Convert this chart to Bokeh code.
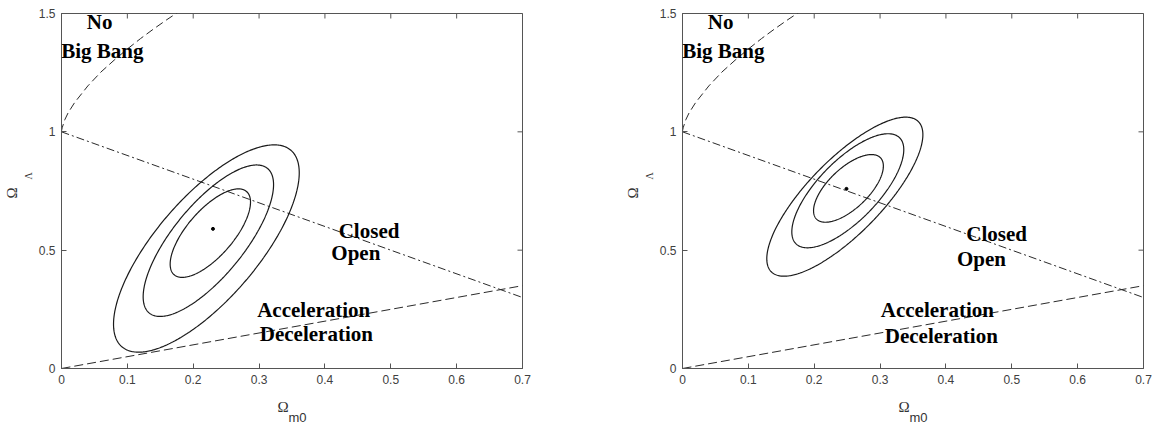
import numpy as np
from bokeh.plotting import figure
from bokeh.models import (Range1d, FixedTicker, Title, LabelSet,
                          CustomJSTickFormatter, ColumnDataSource)
from bokeh.layouts import row
from bokeh.embed import file_html
from bokeh.resources import INLINE
from bokeh.core.properties import value

# ---------------- data ----------------
om_ticks = [0, 0.1, 0.2, 0.3, 0.4, 0.5, 0.6, 0.7]
ol_ticks = [0, 0.5, 1, 1.5]
x_lim = [0, 0.7]
y_lim = [0, 1.5]

# acceleration / deceleration boundary
accel_x = [0.0, 0.7]
accel_y = [0.0, 0.35]
# closed / open (flat) boundary
flat_x = [0.0, 0.7]
flat_y = [1.0, 0.3]
# no big bang boundary
nobb_x = [0.0, 0.0002, 0.001, 0.005, 0.01, 0.02, 0.04, 0.06, 0.08, 0.10, 0.12, 0.14, 0.16, 0.18]
nobb_y = [1.0, 1.006, 1.017, 1.051, 1.080, 1.124, 1.194, 1.253, 1.303, 1.350, 1.394, 1.435, 1.474, 1.511]

# confidence contours (1, 2, 3 sigma): centre, half-extents, correlation
left_cx = [0.226, 0.223, 0.220]
left_cy = [0.572, 0.540, 0.507]
left_sx = [0.061, 0.099, 0.141]
left_sy = [0.187, 0.320, 0.438]
left_rho = [0.70, 0.74, 0.73]
left_best = [0.230, 0.590]

right_cx = [0.252, 0.251, 0.2465]
right_cy = [0.761, 0.751, 0.726]
right_sx = [0.053, 0.085, 0.1185]
right_sy = [0.143, 0.241, 0.336]
right_rho = [0.66, 0.72, 0.78]
right_best = [0.249, 0.759]

region_text = ["No", "Big Bang", "Closed", "Open", "Acceleration", "Deceleration"]
left_text_x = [0.058, 0.062, 0.467, 0.447, 0.383, 0.387]
left_text_y = [1.462, 1.343, 0.583, 0.486, 0.249, 0.144]
right_text_x = [0.058, 0.062, 0.477, 0.454, 0.387, 0.393]
right_text_y = [1.462, 1.343, 0.568, 0.463, 0.247, 0.137]

AX = "#555555"
TICK_TXT = "#404040"
LINE = "#2a2a2a"

fmt_code = "return String(Math.round(tick*10)/10);"


def make_panel(cx, cy, sx, sy, rho, best, tx, ty, border_right):
    p = figure(frame_width=461, frame_height=355,
               x_range=Range1d(*x_lim), y_range=Range1d(*y_lim),
               output_backend="svg", toolbar_location=None,
               min_border_left=61, min_border_right=border_right,
               min_border_top=13, min_border_bottom=54,
               background_fill_color="white", border_fill_color="white")
    p.grid.visible = False
    p.outline_line_color = AX
    p.xaxis.ticker = FixedTicker(ticks=om_ticks)
    p.yaxis.ticker = FixedTicker(ticks=ol_ticks)
    for ax in p.xaxis + p.yaxis:
        ax.formatter = CustomJSTickFormatter(code=fmt_code)
        ax.axis_line_color = AX
        ax.major_tick_line_color = AX
        ax.major_tick_in = 5
        ax.major_tick_out = 0
        ax.minor_tick_line_color = None
        ax.major_label_text_color = TICK_TXT
        ax.major_label_text_font = "Liberation Sans"
        ax.major_label_text_font_size = "12px"
        ax.major_label_standoff = 6

    # ticks on the top and right edges of the box
    p.scatter(om_ticks, [y_lim[1]] * len(om_ticks), marker="dash", size=10,
              angle=np.pi / 2, line_color=AX, line_width=1)
    p.scatter([x_lim[1]] * len(ol_ticks), ol_ticks, marker="dash", size=10,
              line_color=AX, line_width=1)

    # boundaries
    p.line(nobb_x, nobb_y, line_color=LINE, line_width=1, line_dash="8 4")
    p.line(flat_x, flat_y, line_color=LINE, line_width=1, line_dash="8 3 2 3")
    p.line(accel_x, accel_y, line_color=LINE, line_width=1, line_dash="9 4")

    # contours
    t = np.linspace(0, 2 * np.pi, 361)
    for i in range(len(cx)):
        ex = cx[i] + sx[i] * np.cos(t)
        ey = cy[i] + sy[i] * (rho[i] * np.cos(t) + np.sqrt(1 - rho[i] ** 2) * np.sin(t))
        p.line(ex, ey, line_color="#1a1a1a", line_width=1.2)
    p.scatter([best[0]], [best[1]], size=3, color="black")

    src = ColumnDataSource(dict(x=tx, y=ty, text=region_text))
    p.add_layout(LabelSet(x="x", y="y", text="text", source=src,
                          text_align="center", text_baseline="middle",
                          text_font=value("Liberation Serif"), text_font_style="bold",
                          text_font_size="21px", text_color="black"))

    # axis titles (Omega with subscripts)
    p.add_layout(Title(text="Ω", align="left", offset=216, standoff=20,
                       text_font="Liberation Serif", text_font_size="15px",
                       text_font_style="normal", text_color="#333333"), "below")
    p.add_layout(Title(text="m0", align="left", offset=227, standoff=-30,
                       vertical_align="top",
                       text_font="Liberation Sans", text_font_size="13px",
                       text_font_style="normal", text_color="#333333"), "below")
    p.add_layout(Title(text="Λ", align="left", offset=189, standoff=4,
                       text_font="Liberation Serif", text_font_size="10px",
                       text_font_style="normal", text_color="#333333"), "left")
    p.add_layout(Title(text="Ω", align="left", offset=170, standoff=-2,
                       text_font="Liberation Serif", text_font_size="15px",
                       text_font_style="normal", text_color="#333333"), "left")
    return p


p1 = make_panel(left_cx, left_cy, left_sx, left_sy, left_rho, left_best,
                left_text_x, left_text_y, 99)
p2 = make_panel(right_cx, right_cy, right_sx, right_sy, right_rho, right_best,
                right_text_x, right_text_y, 10)

layout = row(p1, p2)
open("out.html", "w").write(file_html(layout, INLINE))
